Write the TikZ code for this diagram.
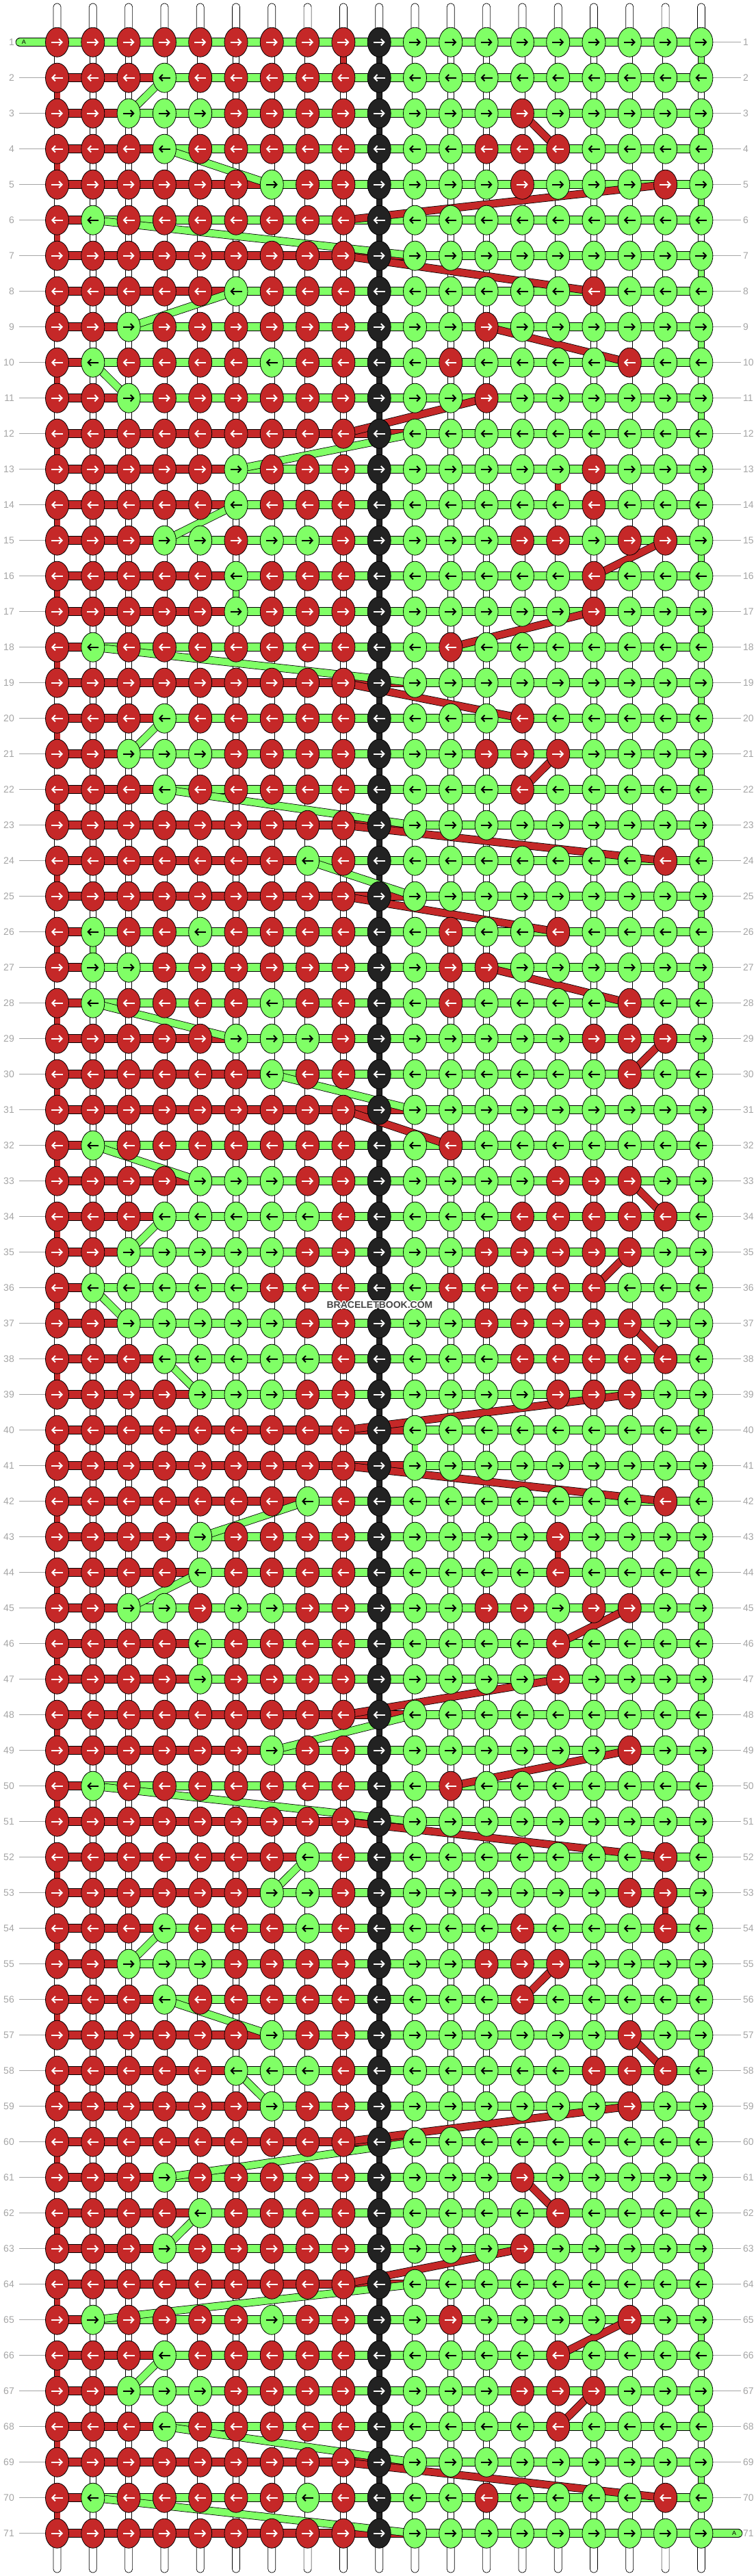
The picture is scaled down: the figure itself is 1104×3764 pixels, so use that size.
\documentclass[tikz,border=0pt]{standalone}
\usepackage{fontspec}
\setmainfont{Liberation Sans}
\usetikzlibrary{shapes.geometric,arrows.meta}

\definecolor{knotred}{RGB}{197,40,40}
\definecolor{knotgreen}{RGB}{128,255,102}
\definecolor{knotblack}{RGB}{34,34,34}
\definecolor{rulegray}{RGB}{165,165,165}
\definecolor{markgray}{RGB}{70,70,70}

\pgfdeclarelayer{threads}
\pgfdeclarelayer{strands}
\pgfsetlayers{threads,strands,main}

\tikzset{every picture/.style={line width=0.75pt}}
\tikzset{
	knot/.style={ellipse, draw=black, line width=0.8pt, minimum width=34pt, minimum height=43pt, inner sep=0pt},
	knotR/.style={knot, fill=knotred},
	knotG/.style={knot, fill=knotgreen},
	knotK/.style={knot, fill=knotblack},
	arrowR/.style={draw=white},
	arrowG/.style={draw=black},
	arrowK/.style={draw=white},
	knotarrow/.style={line width=2pt, -{Straight Barb[length=4.5pt,width=9.5pt]}},
	bar/.style={line width=0.8pt, double=#1, double distance=11pt},
	strand/.style={line width=0.8pt, double=#1, double distance=10pt},
	stub/.style={line width=0.7pt, double=#1, double distance=8pt},
	capsule/.style={draw=black, fill=white, line width=0.7pt, rounded corners=5pt},
	rowline/.style={draw=rulegray, line width=1pt},
	rownum/.style={text=rulegray, font=\fontsize{14}{14}\selectfont, inner sep=0pt},
	markfont/.style={font=\bfseries\fontsize{14}{14}\selectfont, inner sep=0pt},
}

% one row of knots: row, first green bar, colours
\newcommand\knotrow[3]{%
	\def\krow{#1}\def\kbound{#2}\def\kcol{0}%
	\pgfmathsetmacro\ky{61.7+52*(#1-1)}%
	\knotscan#3\relax
	\begin{pgfonlayer}{threads}
		\foreach \c in {1,...,18}{%
			\pgfmathtruncatemacro\cn{\c+1}%
			\ifnum\c<\kbound\relax \def\barcol{knotred}\else \def\barcol{knotgreen}\fi
			\draw[bar=\barcol] (k-\krow-\c.center) -- (k-\krow-\cn.center);
		}
	\end{pgfonlayer}
	% Text Node
	\node[rownum, anchor=east] (numl-#1) at (21,\ky) {#1};
	% Text Node
	\node[rownum, anchor=west] (numr-#1) at (1086,\ky) {#1};
	\begin{pgfonlayer}{threads}
		\draw[rowline] ([xshift=7pt]numl-#1.east) -- (k-#1-1.center);
		\draw[rowline] (k-#1-19.center) -- ([xshift=-3pt]numr-#1.west);
	\end{pgfonlayer}
}
\def\knotscan#1{%
	\ifx\relax#1%
	\else
		\pgfmathtruncatemacro\kcol{\kcol+1}%
		\pgfmathsetmacro\kx{83.5+52.3*(\kcol-1)}%
		\node[knot#1] (k-\krow-\kcol) at (\kx,\ky) {};
		\ifodd\krow
			\draw[knotarrow, arrow#1] ([xshift=-8.5pt]k-\krow-\kcol.center) -- ([xshift=8.5pt]k-\krow-\kcol.center);
		\else
			\draw[knotarrow, arrow#1] ([xshift=8.5pt]k-\krow-\kcol.center) -- ([xshift=-8.5pt]k-\krow-\kcol.center);
		\fi
		\expandafter\knotscan
	\fi}

\begin{document}
\begin{tikzpicture}[x=1pt,y=-1pt]
	\useasboundingbox (0,0) rectangle (1104,3764);
	\begin{pgfonlayer}{threads}
		\fill[white] (0,0) rectangle (1104,3764);
	\end{pgfonlayer}

	%Knots, row by row
	\knotrow{1}{1}{RRRRRRRRRKGGGGGGGGG}
	\knotrow{2}{4}{RRRGRRRRRKGGGGGGGGG}
	\knotrow{3}{3}{RRGGGRRRRKGGGRGGGGG}
	\knotrow{4}{4}{RRRGRRRRRKGGRRRGGGG}
	\knotrow{5}{7}{RRRRRRGRRKGGGRGGGRG}
	\knotrow{6}{2}{RGRRRRRRRKGGGGGGGGG}
	\knotrow{7}{11}{RRRRRRRRRKGGGGGGGGG}
	\knotrow{8}{6}{RRRRRGRRRKGGGGGRGGG}
	\knotrow{9}{3}{RRGRRRRRRKGGRGGGGGG}
	\knotrow{10}{2}{RGRRRRGRRKGRGGGGRGG}
	\knotrow{11}{3}{RRGRRRRRRKGGRGGGGGG}
	\knotrow{12}{11}{RRRRRRRRRKGGGGGGGGG}
	\knotrow{13}{6}{RRRRRGRRRKGGGGGRGGG}
	\knotrow{14}{6}{RRRRRGRRRKGGGGGRGGG}
	\knotrow{15}{4}{RRRGGRGGRKGGGRRGRRG}
	\knotrow{16}{6}{RRRRRGRRRKGGGGGRGGG}
	\knotrow{17}{6}{RRRRRGRRRKGGGGGRGGG}
	\knotrow{18}{2}{RGRRRRRRRKGRGGGGGGG}
	\knotrow{19}{11}{RRRRRRRRRKGGGGGGGGG}
	\knotrow{20}{4}{RRRGRRRRRKGGGRGGGGG}
	\knotrow{21}{3}{RRGGGRRRRKGGRRRGGGG}
	\knotrow{22}{4}{RRRGRRRRRKGGGRGGGGG}
	\knotrow{23}{11}{RRRRRRRRRKGGGGGGGGG}
	\knotrow{24}{8}{RRRRRRRGRKGGGGGGGRG}
	\knotrow{25}{11}{RRRRRRRRRKGGGGGGGGG}
	\knotrow{26}{2}{RGRRGRRRRKGRGGRGGGG}
	\knotrow{27}{2}{RGGRRRRRRKGRRGGGGGG}
	\knotrow{28}{2}{RGRRRRGRRKGRGGGGRGG}
	\knotrow{29}{6}{RRRRRGGGRKGGGGGRRRG}
	\knotrow{30}{7}{RRRRRRGRRKGGGGGGRGG}
	\knotrow{31}{11}{RRRRRRRRRKGGGGGGGGG}
	\knotrow{32}{2}{RGRRRRRRRKGRGGGGGGG}
	\knotrow{33}{5}{RRRRGGGRRKGGGGRRRGG}
	\knotrow{34}{4}{RRRGGGGGRKGGGRRRRRG}
	\knotrow{35}{3}{RRGGGGGRRKGGRRRRRGG}
	\knotrow{36}{2}{RGGGGGRRRKGRRRRRGGG}
	\knotrow{37}{3}{RRGGGGGRRKGGRRRRRGG}
	\knotrow{38}{4}{RRRGGGGGRKGGGRRRRRG}
	\knotrow{39}{5}{RRRRGGGRRKGGGGRRRGG}
	\knotrow{40}{11}{RRRRRRRRRKGGGGGGGGG}
	\knotrow{41}{11}{RRRRRRRRRKGGGGGGGGG}
	\knotrow{42}{8}{RRRRRRRGRKGGGGGGGRG}
	\knotrow{43}{5}{RRRRGRRRRKGGGGRGGGG}
	\knotrow{44}{5}{RRRRGRRRRKGGGGRGGGG}
	\knotrow{45}{3}{RRGGRGGRRKGGRRGRRGG}
	\knotrow{46}{5}{RRRRGRRRRKGGGGRGGGG}
	\knotrow{47}{5}{RRRRGRRRRKGGGGRGGGG}
	\knotrow{48}{11}{RRRRRRRRRKGGGGGGGGG}
	\knotrow{49}{7}{RRRRRRGRRKGGGGGGRGG}
	\knotrow{50}{2}{RGRRRRRRRKGRGGGGGGG}
	\knotrow{51}{11}{RRRRRRRRRKGGGGGGGGG}
	\knotrow{52}{8}{RRRRRRRGRKGGGGGGGRG}
	\knotrow{53}{7}{RRRRRRGGRKGGGGGGRRG}
	\knotrow{54}{4}{RRRGRRRGRKGGGRGGGRG}
	\knotrow{55}{3}{RRGGGRRRRKGGRRRGGGG}
	\knotrow{56}{4}{RRRGRRRRRKGGGRGGGGG}
	\knotrow{57}{7}{RRRRRRGRRKGGGGGGRGG}
	\knotrow{58}{6}{RRRRRGGGRKGGGGGRRRG}
	\knotrow{59}{7}{RRRRRRGRRKGGGGGGRGG}
	\knotrow{60}{11}{RRRRRRRRRKGGGGGGGGG}
	\knotrow{61}{4}{RRRGRRRRRKGGGRGGGGG}
	\knotrow{62}{5}{RRRRGRRRRKGGGGRGGGG}
	\knotrow{63}{4}{RRRGRRRRRKGGGRGGGGG}
	\knotrow{64}{11}{RRRRRRRRRKGGGGGGGGG}
	\knotrow{65}{2}{RGRRRRGRRKGRGGGGRGG}
	\knotrow{66}{4}{RRRGRRRRRKGGGGRGGGG}
	\knotrow{67}{3}{RRGGGRRRRKGGGRRRGGG}
	\knotrow{68}{4}{RRRGRRRRRKGGGGRGGGG}
	\knotrow{69}{11}{RRRRRRRRRKGGGGGGGGG}
	\knotrow{70}{2}{RGRRRRRGRKGGRGGGGRG}
	\knotrow{71}{11}{RRRRRRRRRKGGGGGGGGG}

	\begin{pgfonlayer}{threads}
		%Base strings between the rows
		\foreach \r in {1,...,70}{
			\pgfmathtruncatemacro\rn{\r+1}
			\foreach \c in {1,...,19}{
				\def\stubcol{white}
				\ifnum\c=10 \def\stubcol{knotblack}\fi
				\ifnum\c=1 \ifodd\r\else\def\stubcol{knotred}\fi\fi
				\ifnum\c=19 \ifodd\r\def\stubcol{knotgreen}\fi\fi
				\draw[stub=\stubcol] (k-\r-\c.center) -- (k-\rn-\c.center);
			}
		}
		\foreach \r/\c/\stubcol in {1/9/knotred, 13/15/knotred, 43/15/knotred, 53/18/knotred, 16/6/knotgreen, 26/2/knotgreen, 40/11/knotgreen, 46/5/knotgreen}{
			\pgfmathtruncatemacro\rn{\r+1}
			\draw[stub=\stubcol] (k-\r-\c.center) -- (k-\rn-\c.center);
		}
		%Shape: string ends, top and bottom
		\foreach \c in {1,...,19}{
			\pgfmathsetmacro\sx{83.5+52.3*(\c-1)}
			\draw[capsule] (\sx-5.5,62) rectangle (\sx+5.5,5);
			\draw[capsule] (\sx-5.5,3700) rectangle (\sx+5.5,3759);
		}
		%Start and end of string A
		\coordinate (startA) at (29,61.7);
		\coordinate (endA) at (1079,3701.7);
		\draw[bar=knotgreen, line cap=round] (startA) -- (k-1-1.center);
		\draw[bar=knotgreen, line cap=round] (k-71-19.center) -- (endA);
	\end{pgfonlayer}

	\begin{pgfonlayer}{strands}
		%Green strand from row to row
		\foreach \ra/\ca/\rb/\cb in {2/4/3/3, 4/4/5/7, 6/2/7/11, 8/6/9/3, 10/2/11/3, 12/11/13/6, 14/6/15/4, 18/2/19/11, 20/4/21/3, 22/4/23/11, 24/8/25/11, 28/2/29/6, 30/7/31/11, 32/2/33/5, 34/4/35/3, 36/2/37/3, 38/4/39/5, 42/8/43/5, 44/5/45/3, 48/11/49/7, 50/2/51/11, 52/8/53/7, 54/4/55/3, 56/4/57/7, 58/6/59/7, 60/11/61/4, 62/5/63/4, 64/11/65/2, 66/4/67/3, 68/4/69/11, 70/2/71/11}
			\draw[strand=knotgreen] (k-\ra-\ca.center) -- (k-\rb-\cb.center);
		%Red strand from row to row
		\foreach \ra/\ca/\rb/\cb in {3/14/4/15, 5/18/6/9, 7/9/8/16, 9/13/10/17, 11/13/12/9, 15/18/16/16, 17/16/18/12, 19/9/20/14, 21/15/22/14, 23/9/24/18, 25/9/26/15, 27/13/28/17, 29/18/30/17, 31/9/32/12, 33/17/34/18, 35/17/36/16, 37/17/38/18, 39/17/40/9, 41/9/42/18, 45/17/46/15, 47/15/48/9, 49/17/50/12, 51/9/52/18, 55/15/56/14, 57/17/58/18, 59/17/60/9, 61/14/62/15, 63/14/64/9, 65/17/66/15, 67/16/68/15, 69/9/70/18}
			\draw[strand=knotred] (k-\ra-\ca.center) -- (k-\rb-\cb.center);
	\end{pgfonlayer}

	% Text Node
	\node[font=\fontsize{9}{9}\selectfont, inner sep=0pt] (labelA1) at (35,61.7) {A};
	% Text Node
	\node[font=\fontsize{9}{9}\selectfont, inner sep=0pt] (labelA71) at (1073,3701.7) {A};
	% Text Node, with a light halo
	\foreach \dx/\dy in {-1.5/0, 1.5/0, 0/-1.5, 0/1.5, -1.1/-1.1, 1.1/-1.1, -1.1/1.1, 1.1/1.1}
		\node[markfont, text=white] at (555+\dx,1907+\dy) {BRACELETBOOK.COM};
	\node[markfont, text=markgray] (watermark) at (555,1907) {BRACELETBOOK.COM};
\end{tikzpicture}
\end{document}
